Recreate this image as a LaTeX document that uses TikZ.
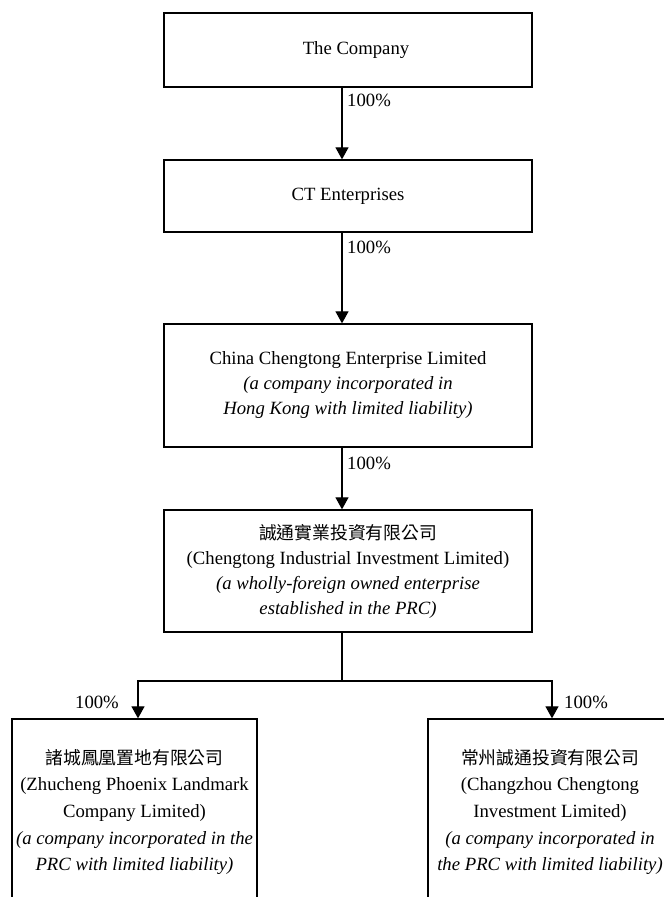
\documentclass[tikz,border=0pt]{standalone}
\usepackage{fontspec}
\setmainfont{Liberation Serif}
\newfontfamily\cjk{Noto Sans CJK TC}
\usetikzlibrary{arrows.meta}
\newcommand{\zh}[1]{{\cjk\fontsize{17.8}{25}\selectfont #1}}
\begin{document}
\begin{tikzpicture}[x=1pt,y=-1pt,
  box/.style={draw, line width=1.3pt, align=center, inner sep=0pt,
    font=\fontsize{18.7}{25}\selectfont},
  lowbox/.style={box, font=\fontsize{18.7}{26.7}\selectfont},
  conn/.style={line width=1.2pt},
  arr/.style={conn, -{Triangle[width=13pt,length=12pt]}},
  pct/.style={inner sep=0pt, font=\fontsize{18.7}{22}\selectfont}]
\useasboundingbox (0,0) rectangle (664,897);
\clip (0,0) rectangle (664,897);
% boxes
\node[box, minimum width=368pt, minimum height=74pt] (comp) at (348,50)
  {\hspace*{16pt}The Company};
\node[box, minimum width=368pt, minimum height=72pt] (ct) at (348,196)
  {CT Enterprises};
\node[box, minimum width=368pt, minimum height=123pt] (cce) at (348,385.5)
  {China Chengtong Enterprise Limited\\
   \textit{(a company incorporated in}\\
   \textit{Hong Kong with limited liability)}};
\node[box, minimum width=368pt, minimum height=122pt] (cti) at (348,571)
  {\zh{誠通實業投資有限公司}\\
   (Chengtong Industrial Investment Limited)\\
   \textit{(a wholly-foreign owned enterprise}\\
   \textit{established in the PRC)}};
\node[lowbox, minimum width=245pt, minimum height=186pt] (zp) at (134.5,812)
  {\zh{諸城鳳凰置地有限公司}\\
   (Zhucheng Phoenix Landmark\\
   Company Limited)\\
   \textit{(a company incorporated in the}\\
   \textit{PRC with limited liability)}};
\node[lowbox, minimum width=244pt, minimum height=186pt] (cz) at (550,812)
  {\zh{常州誠通投資有限公司}\\
   (Changzhou Chengtong\\
   Investment Limited)\\
   \textit{(a company incorporated in}\\
   \textit{the PRC with limited liability)}};
% connectors
\draw[arr] ([xshift=-6pt]comp.south) -- ([xshift=-6pt]ct.north);
\draw[arr] ([xshift=-6pt]ct.south) -- ([xshift=-6pt]cce.north);
\draw[arr] ([xshift=-6pt]cce.south) -- ([xshift=-6pt]cti.north);
\coordinate (br) at (342,681);
\draw[conn] ([xshift=-6pt]cti.south) -- (br);
\draw[arr] (br) -| ([xshift=3.5pt]zp.north);
\draw[arr] (br) -| ([xshift=2pt]cz.north);
% labels
\node[pct, anchor=west] (p1) at (347,100) {100\%};
\node[pct, anchor=west] (p2) at (347,247) {100\%};
\node[pct, anchor=west] (p3) at (347,463) {100\%};
\node[pct, anchor=east] (p4) at (119,702) {100\%};
\node[pct, anchor=west] (p5) at (564,702) {100\%};
\end{tikzpicture}
\end{document}
